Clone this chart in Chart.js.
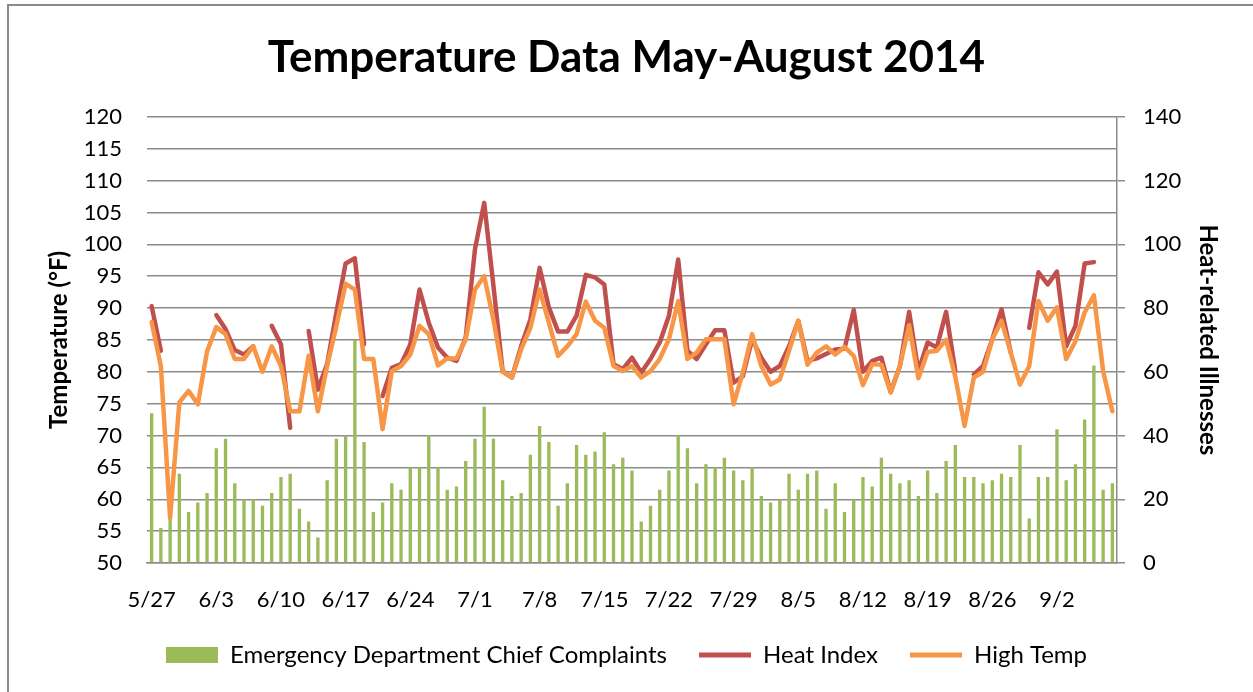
<!DOCTYPE html>
<html>
<head>
<meta charset="utf-8">
<script src="https://cdn.jsdelivr.net/npm/chart.js@4/dist/chart.umd.min.js"></script>
<style>
  html, body { margin: 0; padding: 0; background: #fff; overflow: hidden; }
  #frame { position: absolute; left: 7px; top: 4px; width: 1400px; height: 900px; border: 2px solid #8a8a8a; }
  #chart { position: absolute; left: 0; top: 0; }
</style>
</head>
<body>
<div id="frame"></div>
<canvas id="chart" width="1253" height="692"></canvas>
<script>
// one label per day, 5/27 .. 9/8
const days = [
  "5/27","5/28","5/29","5/30","5/31",
  "6/1","6/2","6/3","6/4","6/5","6/6","6/7","6/8","6/9","6/10","6/11","6/12","6/13","6/14","6/15",
  "6/16","6/17","6/18","6/19","6/20","6/21","6/22","6/23","6/24","6/25","6/26","6/27","6/28","6/29","6/30",
  "7/1","7/2","7/3","7/4","7/5","7/6","7/7","7/8","7/9","7/10","7/11","7/12","7/13","7/14","7/15",
  "7/16","7/17","7/18","7/19","7/20","7/21","7/22","7/23","7/24","7/25","7/26","7/27","7/28","7/29","7/30","7/31",
  "8/1","8/2","8/3","8/4","8/5","8/6","8/7","8/8","8/9","8/10","8/11","8/12","8/13","8/14","8/15",
  "8/16","8/17","8/18","8/19","8/20","8/21","8/22","8/23","8/24","8/25","8/26","8/27","8/28","8/29","8/30","8/31",
  "9/1","9/2","9/3","9/4","9/5","9/6","9/7","9/8"
];
// labels shown on the axis (one a week)
const tickLabels = ["5/27","6/3","6/10","6/17","6/24","7/1","7/8","7/15","7/22","7/29","8/5","8/12","8/19","8/26","9/2"];

const complaints = [
  47, 11, 14, 28, 16, 19, 22, 36, 39, 25, 20, 20, 18, 22, 27, 28, 17, 13, 8, 26,
  39, 40, 70, 38, 16, 19, 25, 23, 30, 30, 40, 30, 23, 24, 32, 39, 49, 39, 26, 21,
  22, 34, 43, 38, 18, 25, 37, 34, 35, 41, 31, 33, 29, 13, 18, 23, 29, 40, 36, 25,
  31, 30, 33, 29, 26, 30, 21, 19, 20, 28, 23, 28, 29, 17, 25, 16, 20, 27, 24, 33,
  28, 25, 26, 21, 29, 22, 32, 37, 27, 27, 25, 26, 28, 27, 37, 14, 27, 27, 42, 26,
  31, 45, 62, 23, 25
];

const heatIndex = [
  90.3, 83.3, null, null, null, null, null, 88.9, 86.7, 83.4, 82.7, 84, null, 87.2, 84.3, 71.2, null, 86.4, 77.2, 81.2,
  89.3, 97, 97.8, 84.3, null, 76.2, 80.6, 81.2, 84.3, 92.9, 87.7, 83.8, 82.2, 81.7, 85.4, 99.2, 106.5, 93.5, 80.1, 79.1,
  84, 88.2, 96.3, 90.1, 86.3, 86.3, 88.8, 95.2, 94.8, 93.7, 81.2, 80.4, 82.2, 79.9, 82, 84.6, 88.8, 97.6, 83.3, 82,
  84.3, 86.5, 86.5, 78.3, 79.3, 85.1, 82.2, 80, 80.9, 84, 88, 81.7, 82.1, 82.8, 83.5, 83.6, 89.7, 80, 81.7, 82.2,
  76.8, 80.9, 89.4, 80.1, 84.6, 83.8, 89.4, 80.1, null, 79.6, 80.9, 85.1, 89.8, 83, null, 86.9, 95.6, 93.7, 95.7, 84,
  87.2, 97, 97.2, null, null
];

const highTemp = [
  87.8, 80.9, 57.1, 75.2, 77, 74.9, 83.2, 87, 85.9, 82, 82, 84, 80, 84, 80.9, 73.8, 73.8, 82.5, 73.8, 80.9,
  87.2, 93.8, 92.9, 82, 82, 71, 80.1, 80.9, 82.7, 87.2, 85.9, 81, 82.1, 82.1, 85.1, 92.9, 95, 88.2, 80, 79.1,
  83.5, 86.9, 92.9, 87.7, 82.5, 84, 85.9, 91, 88, 86.9, 80.9, 80.1, 80.9, 79.1, 80.1, 82, 85.1, 91.1, 82, 83,
  85.1, 85.1, 85.1, 74.9, 79.9, 85.9, 80.9, 78, 78.8, 83.3, 88, 81.1, 83, 84, 82.7, 83.9, 82.5, 77.9, 81.2, 81.1,
  76.8, 80.9, 87.3, 79, 83.1, 83.3, 85, 79.2, 71.5, 79.1, 80, 85.1, 88, 83, 78, 80.9, 91.1, 88, 90.1, 82,
  84.8, 89.3, 92, 80.1, 73.8
];

Chart.defaults.font.family = "Lato";
Chart.defaults.color = "#000";

const gridGray = "#8c8c8c";

new Chart(document.getElementById("chart"), {
  type: "bar",
  data: {
    labels: days,
    datasets: [
      {
        label: "Emergency Department Chief Complaints",
        data: complaints,
        yAxisID: "y1",
        backgroundColor: "#9BBB59",
        borderWidth: 0,
        barPercentage: 0.36,
        categoryPercentage: 1,
        pointStyle: "rect",
        order: 3
      },
      {
        type: "line",
        label: "Heat Index",
        data: heatIndex,
        yAxisID: "y",
        borderColor: "#C0504D",
        backgroundColor: "#C0504D",
        borderWidth: 4.5,
        borderCapStyle: "round",
        borderJoinStyle: "round",
        tension: 0,
        spanGaps: false,
        pointRadius: 0,
        pointStyle: "line",
        pointBorderWidth: 5,
        order: 2
      },
      {
        type: "line",
        label: "High Temp",
        data: highTemp,
        yAxisID: "y",
        borderColor: "#F79646",
        backgroundColor: "#F79646",
        borderWidth: 4.5,
        borderCapStyle: "round",
        borderJoinStyle: "round",
        tension: 0,
        pointRadius: 0,
        pointStyle: "line",
        pointBorderWidth: 5,
        order: 1
      }
    ]
  },
  options: {
    responsive: false,
    animation: false,
    layout: { padding: { left: 0, right: 0, top: 0, bottom: 15 } },
    scales: {
      x: {
        offset: true,
        grid: { display: false },
        border: { display: true, color: gridGray, width: 1.5 },
        ticks: {
          autoSkip: false,
          maxRotation: 0,
          minRotation: 0,
          padding: 16,
          font: { size: 22 },
          callback: function(value, index) {
            const lbl = days[index];
            return tickLabels.includes(lbl) ? lbl : "";
          }
        },
        // labels are clipped to the scale box, so keep it tall enough
        afterFit(scale) { scale.height = 48; }
      },
      y: {
        position: "left",
        min: 50,
        max: 120,
        ticks: { stepSize: 5, padding: 25, font: { size: 22 } },
        grid: { color: gridGray, lineWidth: 1.5, drawTicks: false },
        border: { display: false },
        title: {
          display: true,
          text: "Temperature (°F)",
          font: { size: 24, weight: "bold" },
          padding: { top: 45 }
        },
        afterFit(scale) { scale.width = 147; }
      },
      y1: {
        position: "right",
        min: 0,
        max: 140,
        ticks: { stepSize: 20, padding: 18, font: { size: 22 } },
        grid: { drawOnChartArea: false, color: gridGray, lineWidth: 1.5, tickLength: 8 },
        border: { display: true, color: gridGray, width: 1.5 },
        title: {
          display: true,
          text: "Heat-related Illnesses",
          font: { size: 24, weight: "bold" },
          padding: { top: 31 }
        },
        afterFit(scale) { scale.width = 136; }
      }
    },
    plugins: {
      title: {
        display: true,
        text: "Temperature Data May-August 2014",
        font: { size: 44, weight: "bold" },
        color: "#000",
        padding: { top: 31, bottom: 33 }
      },
      legend: {
        position: "bottom",
        labels: {
          usePointStyle: true,
          pointStyleWidth: 52,
          boxHeight: 16,
          padding: 32,
          font: { size: 24 },
          color: "#000",
          sort: (a, b) => a.datasetIndex - b.datasetIndex
        }
      },
      tooltip: { enabled: false }
    }
  }
});
</script>
</body>
</html>
